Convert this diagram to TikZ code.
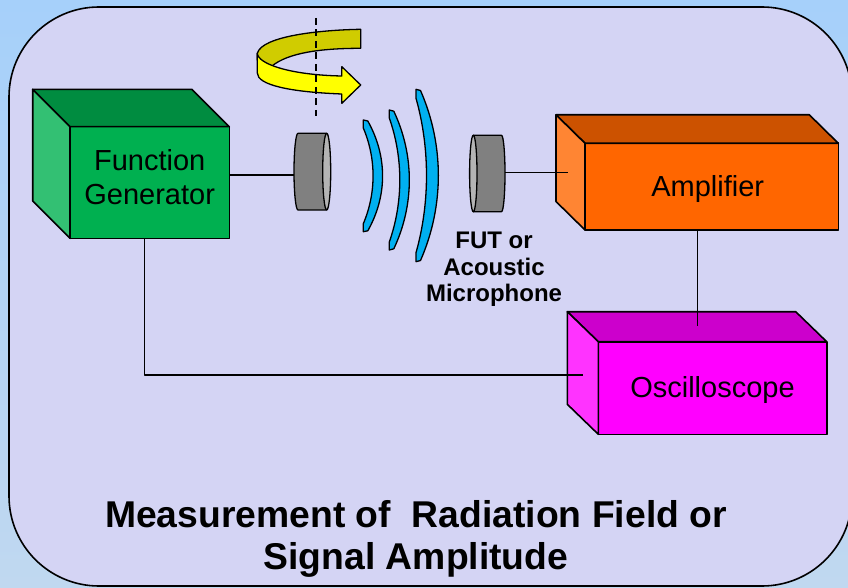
\documentclass[tikz,border=0pt]{standalone}
\usepackage{fontspec}
\setmainfont{Liberation Sans}
\definecolor{bgtop}{RGB}{166,208,250}
\definecolor{bgbot}{RGB}{192,216,240}
\definecolor{panel}{RGB}{212,212,244}
\definecolor{gfront}{RGB}{0,176,80}
\definecolor{gtop}{RGB}{0,140,64}
\definecolor{gside}{RGB}{51,192,115}
\definecolor{ofront}{RGB}{255,102,0}
\definecolor{otop}{RGB}{204,82,0}
\definecolor{oside}{RGB}{255,133,51}
\definecolor{mfront}{RGB}{255,0,255}
\definecolor{mtop}{RGB}{204,0,204}
\definecolor{mside}{RGB}{255,51,255}
\definecolor{wavec}{RGB}{0,176,240}
\definecolor{ydark}{RGB}{208,204,0}
\definecolor{ybright}{RGB}{255,255,0}
\definecolor{cylbody}{RGB}{128,128,128}
\definecolor{cylface}{RGB}{180,180,180}
\newcommand\myboxfont{\fontsize{29}{34}\selectfont}
\begin{document}
\begin{tikzpicture}[x=1pt,y=-1pt,line join=round,
  boxface/.style={draw=black,line width=1.6pt,outer sep=0pt,inner sep=0pt,align=center,font=\myboxfont},
  boxtext/.style={font=\myboxfont,align=center,inner sep=0pt},
  boxedge/.style={draw=black,line width=1.6pt},
  wire/.style={draw=black,line width=1.3pt},
  shapeline/.style={draw=black,line width=1.3pt},
  lbl/.style={font=\bfseries\fontsize{24}{26.3}\selectfont,align=center,inner sep=0pt},
  titlestyle/.style={font=\bfseries\fontsize{37.3}{42}\selectfont,align=center,inner sep=0pt}]
\useasboundingbox (0,0) rectangle (848,588);
\clip (0,0) rectangle (848,588);
\fill[top color=bgtop,bottom color=bgbot] (0,0) rectangle (848,588);
\draw[line width=1.6pt,fill=panel,rounded corners=90pt] (9,7) rectangle (852,586);

% Function generator
\node[boxface,fill=gfront,minimum width=159.3pt,minimum height=111.6pt,
  label={[boxtext,name=fgtext,yshift=5pt]center:{Function\\Generator}}] (fg) at (149.65,182.5) {};
\draw[boxedge,fill=gtop] (fg.north west) -- ([shift={(-37.3,-37.3)}]fg.north west) -- ([shift={(-37.3,-37.3)}]fg.north east) -- (fg.north east) -- cycle;
\draw[boxedge,fill=gside] (fg.north west) -- ([shift={(-37.3,-37.3)}]fg.north west) -- ([shift={(-37.3,-37.3)}]fg.south west) -- (fg.south west) -- cycle;

% Amplifier
\node[boxface,fill=ofront,minimum width=253.3pt,minimum height=86.7pt,
  label={[boxtext,name=amptext,yshift=-2.5pt,xshift=-4pt]center:Amplifier}] (amp) at (711.65,186.65) {};
\draw[boxedge,fill=otop] (amp.north west) -- ([shift={(-29,-28.5)}]amp.north west) -- ([shift={(-29,-28.5)}]amp.north east) -- (amp.north east) -- cycle;
\draw[boxedge,fill=oside] (amp.north west) -- ([shift={(-29,-28.5)}]amp.north west) -- ([shift={(-29,-28.5)}]amp.south west) -- (amp.south west) -- cycle;

% Oscilloscope
\node[boxface,fill=mfront,minimum width=228.4pt,minimum height=92.6pt,
  label={[boxtext,name=osctext,yshift=-1.5pt]center:Oscilloscope}] (osc) at (712.5,388) {};
\draw[boxedge,fill=mtop] (osc.north west) -- ([shift={(-31,-30)}]osc.north west) -- ([shift={(-31,-30)}]osc.north east) -- (osc.north east) -- cycle;
\draw[boxedge,fill=mside] (osc.north west) -- ([shift={(-31,-30)}]osc.north west) -- ([shift={(-31,-30)}]osc.south west) -- (osc.south west) -- cycle;

% transducers
\coordinate (t1w) at (294,175);
\coordinate (t2e) at (505,172.3);
\coordinate (ampin) at (568.3,172.3);
\coordinate (oscin) at (697.3,326);
\coordinate (oscside) at (582.7,375);
\coordinate (gbend) at (144.3,375);

\path[shapeline,fill=cylbody] (326.7,133.3) -- (298,133.3)
  .. controls (295.8,133.3) and (294,150.5) .. (294,171.65)
  .. controls (294,192.8) and (295.8,210) .. (298,210) -- (326.7,210) -- cycle;
\path[shapeline,fill=cylface] (326.7,171.65) ellipse [x radius=4,y radius=38.35];

\path[shapeline,fill=cylbody] (473.3,135.3) -- (501.5,135.3)
  .. controls (503.4,135.3) and (505,152.4) .. (505,173.5)
  .. controls (505,194.6) and (503.4,211.7) .. (501.5,211.7) -- (473.3,211.7) -- cycle;
\path[shapeline,fill=cylface] (473.3,173.5) ellipse [x radius=3.7,y radius=38.2];

% waves
\path[shapeline,fill=wavec] (363.3,120) -- (363.3,128)
  .. controls (376.3,158.6) and (376.3,193.1) .. (363.3,223.7) -- (363.3,231.7) -- (367.8,230.8)
  .. controls (387.5,195.8) and (387.5,156.2) .. (367.8,121) -- cycle;
\path[shapeline,fill=wavec] (389.3,110) -- (389.3,118)
  .. controls (403.3,157.7) and (403.3,202.3) .. (389.3,242) -- (389.3,250) -- (393.8,248.8)
  .. controls (414.5,204.8) and (414.5,155.2) .. (393.8,111.2) -- cycle;
\path[shapeline,fill=wavec] (416,89.3) -- (416,98.3)
  .. controls (430,147.7) and (430,203.3) .. (416,252.7) -- (416,261.7) -- (420.5,260.5)
  .. controls (444.3,206.2) and (444.3,144.8) .. (420.5,90.5) -- cycle;

% rotation arrow
\path[shapeline,fill=ydark] (360.7,29.3) .. controls (320,30) and (262,36) .. (257.3,53.3)
  -- (257.3,60) -- (272,66) .. controls (288,53) and (320,48.3) .. (360.7,48.3) -- cycle;
\path[shapeline,fill=ybright] (257.3,53.3) .. controls (258,64) and (290,75) .. (341.8,76)
  -- (341.8,66.7) -- (360.7,85) -- (341.8,103.3) -- (341.8,94)
  .. controls (290,92) and (257.3,85) .. (257.3,73) -- cycle;
\coordinate (axtop) at (316,18);
\coordinate (axbot) at (316,116);
\draw[line width=1.3pt,dash pattern=on 7pt off 4.5pt] (axtop) -- (axbot);

% connectors
\draw[wire] (fg.east |- t1w) -- (t1w);
\draw[wire] (t2e) -- (ampin);
\draw[wire] (oscin |- amp.south) -- (oscin);
\draw[wire] (gbend |- fg.south) -- (gbend) -- (oscside);

% labels
\node[lbl] (fut) at (494,269.4) {FUT or\\Acoustic\\Microphone};
\node[titlestyle] (title) at (416,539) {Measurement of\ \ Radiation Field or\\Signal Amplitude};
\end{tikzpicture}
\end{document}
